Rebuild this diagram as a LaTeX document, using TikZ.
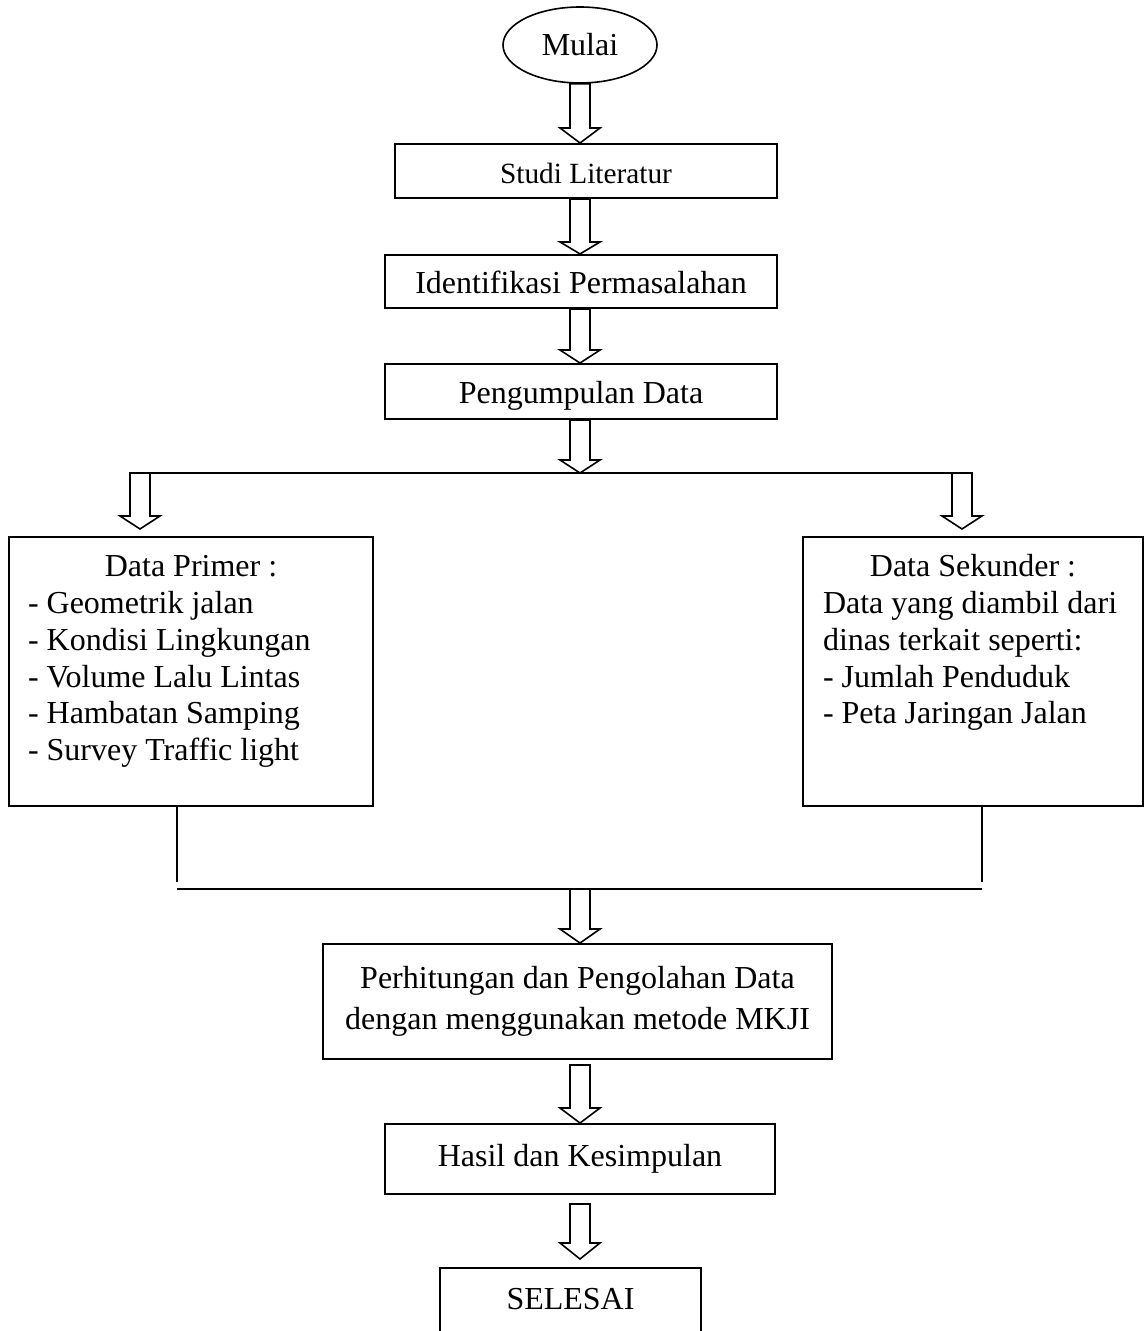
\documentclass[tikz,border=0pt]{standalone}
\usepackage{fontspec}
\setmainfont{Liberation Serif}
\usetikzlibrary{calc}
\usetikzlibrary{shapes.geometric}

\newcommand{\hollowarrow}[3][14]{%
  \draw[hollow] ($(#2)+(-10,0)$) -- ($(#3)+(-10,-#1)$) -- ($(#3)+(-20,-#1)$) -- (#3)
    -- ($(#3)+(20,-#1)$) -- ($(#3)+(10,-#1)$) -- ($(#2)+(10,0)$) -- cycle;}

\begin{document}
\begin{tikzpicture}[x=0.375pt, y=-0.375pt,
    every node/.style={font=\fontsize{12}{13.8}\selectfont},
    box/.style={draw, line width=0.75pt, rectangle, inner sep=0pt},
    lowtext/.style={text height=9pt, text depth=0pt},
    hollow/.style={line width=0.6pt, line join=miter},
    joinline/.style={line width=0.9pt}]
      \useasboundingbox (0,0) rectangle (1144,1331);

      \node[ellipse, draw, line width=0.6pt, inner sep=0pt, minimum width=57.75pt, minimum height=28.5pt] (mulai) at (580,45) {Mulai};
      \node[box, lowtext, minimum width=143.25pt, minimum height=20.25pt, font=\fontsize{11}{13}\selectfont] (studi) at (586,171) {Studi Literatur};
      \node[box, lowtext, minimum width=147pt, minimum height=19.9pt] (ident) at (581,281.5) {Identifikasi Permasalahan};
      \node[box, lowtext, minimum width=147pt, minimum height=20.6pt] (kumpul) at (581,391.5) {Pengumpulan Data};

      \node[box, minimum width=136.5pt, minimum height=100.9pt] (primer) at (191,671.5) {\parbox[c][100.9pt][t]{122.25pt}{\fontsize{12}{13.76}\selectfont
        \centering\rule{0pt}{15pt}Data Primer :\par\raggedright
        - Geometrik jalan\\ - Kondisi Lingkungan\\ - Volume Lalu Lintas\\ - Hambatan Samping\\ - Survey Traffic light}};
      \node[box, minimum width=127.5pt, minimum height=100.9pt] (sekunder) at (973,671.5) {\parbox[c][100.9pt][t]{112.5pt}{\fontsize{12}{13.76}\selectfont
        \centering\rule{0pt}{15pt}Data Sekunder :\par\raggedright
        Data yang diambil dari\\ dinas terkait seperti:\\ - Jumlah Penduduk\\ - Peta Jaringan Jalan}};

      \node[box, minimum width=190.9pt, minimum height=43.1pt, align=center, font=\fontsize{12}{15.6}\selectfont] (hitung) at (577.5,1001.5) {Perhitungan dan Pengolahan Data\\ dengan menggunakan metode MKJI};
      \node[box, minimum width=146.25pt, minimum height=26.25pt] (hasil) at (580,1159) {Hasil dan Kesimpulan};
      \node[box, anchor=north, minimum width=97.9pt, text height=15.4pt, text depth=30pt] (selesai) at (570.5,1267) {SELESAI};

      \coordinate (axis) at (580,0);
      \coordinate (splitL) at (130,473);
      \coordinate (splitR) at (972,473);
      \coordinate (inL) at (140,529);
      \coordinate (inR) at (962,529);
      \coordinate (mergeL) at (177,882);
      \coordinate (mergeR) at (982,882);
      \coordinate (barL) at (177,889);
      \coordinate (barR) at (982,889);
      \coordinate (outH) at ($(hitung.south -| axis)+(0,5)$);
      \coordinate (outS) at ($(hasil.south -| axis)+(0,9)$);
      \coordinate (inS) at ($(selesai.north -| axis)+(0,-8)$);

      \hollowarrow[15]{mulai.south}{mulai.south |- studi.north}
      \hollowarrow[12]{studi.south -| axis}{ident.north -| axis}
      \hollowarrow[13]{ident.south -| axis}{kumpul.north -| axis}
      \hollowarrow[13]{kumpul.south -| axis}{splitL -| axis}
      \draw[joinline] (splitL) -- (splitR);
      \hollowarrow[13]{splitL -| inL}{inL}
      \hollowarrow[13]{splitR -| inR}{inR}

      \draw[joinline] (primer.south -| mergeL) -- (mergeL);
      \draw[joinline] (sekunder.south -| mergeR) -- (mergeR);
      \draw[joinline] (barL) -- (barR);
      \hollowarrow[14]{barL -| axis}{hitung.north -| axis}
      \hollowarrow[15]{outH}{hasil.north -| axis}
      \hollowarrow[16]{outS}{inS}
\end{tikzpicture}
\end{document}
